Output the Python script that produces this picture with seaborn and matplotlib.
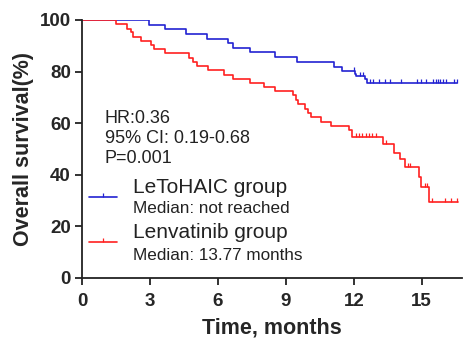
import numpy as np
import pandas as pd
import matplotlib
matplotlib.use("Agg")
import matplotlib.pyplot as plt
import seaborn as sns

# ---- data ----
blue_t = [0, 2.97, 3.66, 4.59, 5.53, 6.46, 6.65, 7.41, 8.51, 9.51, 11.12, 11.47, 12.04, 12.10, 12.48, 12.58, 16.56]
blue_s = [100, 98.2, 96.4, 94.6, 92.7, 91.0, 89.3, 87.5, 85.5, 83.7, 81.9, 80.1, 79.2, 78.3, 77.0, 75.5, 75.5]
blue_cens = [12.0, 12.26, 12.41, 12.70, 12.85, 13.12, 13.37, 13.59, 14.1, 14.79, 14.98, 15.2, 15.5,
             15.62, 15.72, 15.79, 15.94, 16.06, 16.41, 16.56]

red_t = [0, 1.5, 2.0, 2.15, 2.26, 2.60, 3.04, 3.19, 3.66, 4.73, 4.91, 5.09, 5.55, 6.26, 6.67, 7.41,
         8.03, 8.51, 9.32, 9.47, 9.56, 9.84, 9.98, 10.13, 10.57, 11.01, 11.79, 11.94, 13.27, 13.77,
         14.03, 14.25, 14.88, 14.98, 15.32, 16.6]
red_s = [100, 98.3, 96.7, 95.2, 93.5, 92.0, 90.3, 88.6, 87.1, 85.4, 83.8, 82.2, 80.6, 78.8, 77.1, 75.5,
         73.9, 72.3, 70.8, 69.0, 67.3, 65.5, 63.8, 62.5, 60.6, 59.0, 57.4, 54.5, 52.0, 48.6,
         46.0, 43.1, 39.3, 35.1, 29.6, 29.6]
red_cens = [12.09, 12.23, 12.38, 12.53, 12.67, 12.82, 12.97, 13.44, 14.4, 14.5, 15.13, 15.23,
            15.47, 16.01, 16.31, 16.57]

group_names = ["LeToHAIC group", "Lenvatinib group"]
medians = ["Median: not reached", "Median: 13.77 months"]
stats_text = ["HR:0.36", "95% CI: 0.19-0.68", "P=0.001"]
x_ticks = [0, 3, 6, 9, 12, 15]
y_ticks = [0, 20, 40, 60, 80, 100]

BLUE = "#2323d2"
RED = "#ff2020"

def step_value(ts, ss, t):
    i = np.searchsorted(np.asarray(ts), t, side="right") - 1
    return ss[max(i, 0)]

curves = pd.concat([
    pd.DataFrame({"t": blue_t, "s": blue_s, "g": group_names[0]}),
    pd.DataFrame({"t": red_t, "s": red_s, "g": group_names[1]}),
])
cens = pd.concat([
    pd.DataFrame({"t": blue_cens, "s": [step_value(blue_t, blue_s, c) for c in blue_cens], "g": group_names[0]}),
    pd.DataFrame({"t": red_cens, "s": [step_value(red_t, red_s, c) for c in red_cens], "g": group_names[1]}),
])

sns.set_style("ticks")
plt.rcParams["font.family"] = ["Liberation Sans", "DejaVu Sans"]

fig = plt.figure(figsize=(4.63, 3.39), dpi=100)
ax = fig.add_axes([82/463, 1 - 278/339, 380/463, 258/339])

pal = {group_names[0]: BLUE, group_names[1]: RED}
for g in group_names:
    sub = curves[curves.g == g]
    sns.lineplot(data=sub, x="t", y="s", ax=ax, color=pal[g], drawstyle="steps-post",
                 estimator=None, sort=False, linewidth=1.2, legend=False)
    csub = cens[cens.g == g]
    ax.plot(csub.t, csub.s + 0.8, linestyle="none", marker="|", color=pal[g],
            markersize=3.5, markeredgewidth=0.9)

ax.set_xlim(0, 16.78)
ax.set_ylim(0, 100)
ax.set_xticks(x_ticks)
ax.set_yticks(y_ticks)
ax.tick_params(axis="both", length=5, width=1.3, labelsize=13.5, color="#222222", pad=3)
ax.tick_params(axis="x", pad=6)
for lab in ax.get_xticklabels() + ax.get_yticklabels():
    lab.set_fontweight("bold")
for side in ["top", "right"]:
    ax.spines[side].set_visible(False)
for side in ["left", "bottom"]:
    ax.spines[side].set_linewidth(1.3)
    ax.spines[side].set_color("#222222")

ax.set_xlabel("Time, months", fontsize=15.5, fontweight="bold", labelpad=5)
ax.set_ylabel("Overall survival(%)", fontsize=15.5, fontweight="bold", labelpad=4)

# stats text
for txt, yb in zip(stats_text, [0.602, 0.523, 0.446]):
    ax.text(0.0605, yb, txt, transform=ax.transAxes, fontsize=13, va="baseline", ha="left",
            color="#222222")

# manual legend
for col, yl, name, med, yn, ym in [
    (BLUE, 0.315, group_names[0], medians[0], 0.330, 0.252),
    (RED, 0.141, group_names[1], medians[1], 0.156, 0.071),
]:
    ax.plot([0.018, 0.092], [yl, yl], transform=ax.transAxes, color=col, linewidth=1.2)
    ax.plot([0.055], [yl + 0.008], transform=ax.transAxes, color=col, marker="|",
            markersize=3, markeredgewidth=0.9)
    ax.text(0.133, yn, name, transform=ax.transAxes, fontsize=15, va="baseline", ha="left",
            color="#222222")
    ax.text(0.133, ym, med, transform=ax.transAxes, fontsize=12.3, va="baseline", ha="left",
            color="#222222")

fig.savefig("out.png", dpi=100)
